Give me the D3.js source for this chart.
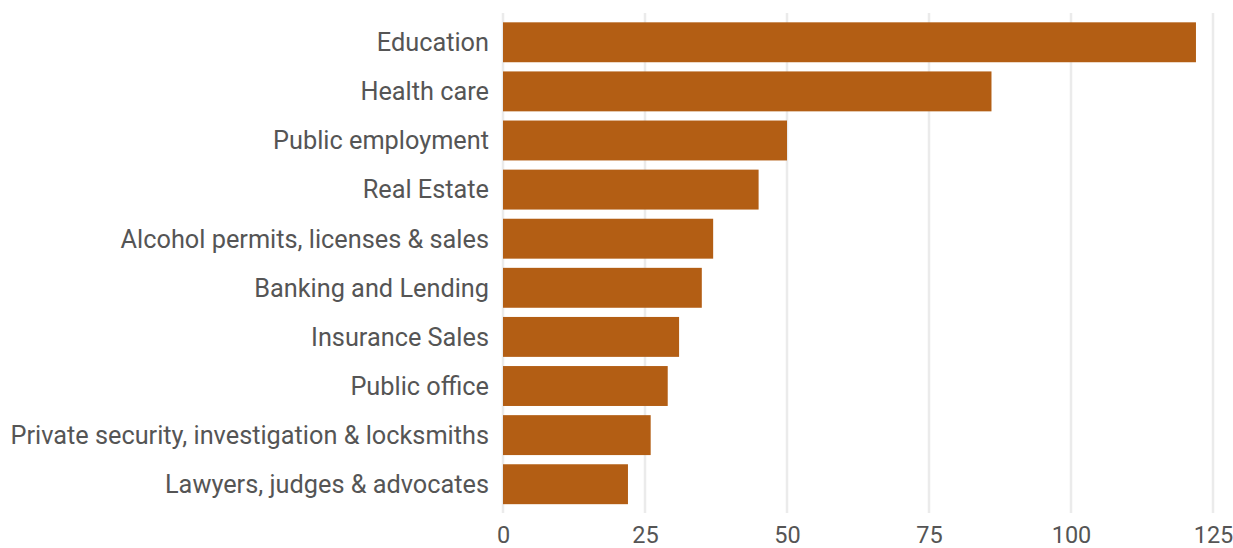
<!DOCTYPE html>
<html lang="en">
<head>
    <meta charset="UTF-8">
    <title>Bar Chart</title>
    <script src="https://d3js.org/d3.v7.min.js"></script>
    <style>
        body { margin: 0; background: #fff; font-family: "Roboto", sans-serif; }
    </style>
</head>
<body>
    <div id="chart"></div>
    <script>
        const categories = ["Education", "Health care", "Public employment", "Real Estate",
            "Alcohol permits, licenses & sales", "Banking and Lending", "Insurance Sales",
            "Public office", "Private security, investigation & locksmiths", "Lawyers, judges & advocates"];
        const values = [122, 86, 50, 45, 37, 35, 31, 29, 26, 22];
        const tickValues = [0, 25, 50, 75, 100, 125];

        const width = 1233, height = 548;
        const margin = { top: 12, right: 20, bottom: 36, left: 503 };
        const font = "Roboto, sans-serif";

        const svg = d3.select("#chart").append("svg")
            .attr("width", width)
            .attr("height", height);

        const x = d3.scaleLinear().domain([0, 125]).range([margin.left, 1213]);
        const y = d3.scaleBand().domain(categories)
            .range([12.5, 514]).paddingInner(0.187).paddingOuter(0.2);

        // grid lines
        svg.append("g")
            .selectAll("line")
            .data(tickValues)
            .join("line")
            .attr("x1", d => x(d)).attr("x2", d => x(d))
            .attr("y1", 13).attr("y2", 513)
            .attr("stroke", "#ebebeb")
            .attr("stroke-width", 2.5);

        // bars
        svg.append("g")
            .selectAll("rect")
            .data(values)
            .join("rect")
            .attr("x", x(0))
            .attr("y", (d, i) => y(categories[i]))
            .attr("width", d => x(d) - x(0))
            .attr("height", y.bandwidth())
            .attr("fill", "#b35e14");

        // category labels
        svg.append("g")
            .selectAll("text")
            .data(categories)
            .join("text")
            .attr("x", margin.left - 14)
            .attr("y", d => y(d) + y.bandwidth() / 2)
            .attr("dy", "0.35em")
            .attr("text-anchor", "end")
            .attr("fill", "#555")
            .style("font-family", font)
            .style("font-size", "25.3px")
            .text(d => d);

        // x axis
        const xAxis = d3.axisBottom(x).tickValues(tickValues).tickSize(0).tickPadding(0);
        svg.append("g")
            .attr("transform", `translate(0,535)`)
            .call(xAxis)
            .call(g => g.select(".domain").remove())
            .call(g => g.selectAll("text")
                .attr("fill", "#555")
                .attr("dy", "0.35em")
                .style("font-size", "23.5px")
                .style("font-family", font));
    </script>
</body>
</html>
